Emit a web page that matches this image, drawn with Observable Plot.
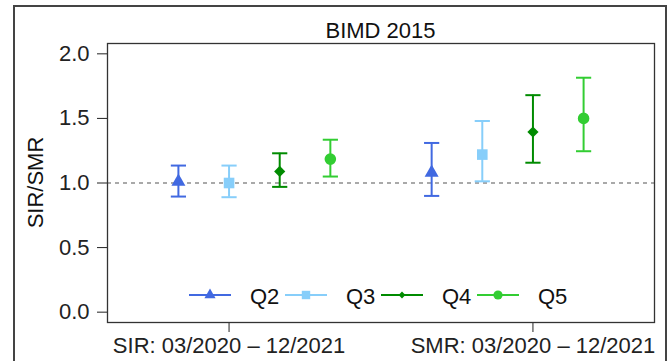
<!DOCTYPE html>
<html>
<head>
<meta charset="utf-8">
<script src="https://cdn.jsdelivr.net/npm/d3@7"></script>
<script src="https://cdn.jsdelivr.net/npm/@observablehq/plot@0.6"></script>
<style>
  html, body { margin: 0; padding: 0; background: #fff; }
  #wrap { position: relative; width: 669px; height: 361px; overflow: hidden; font-family: "Liberation Sans", Arial, Helvetica, sans-serif; }
  #wrap > svg { position: absolute; left: 0; top: 0; }
  #overlay { pointer-events: none; }
</style>
</head>
<body>
<div id="wrap"></div>
<script>
// ---- data ----
const title = "BIMD 2015";
const yLabel = "SIR/SMR";
const groups = ["SIR", "SMR"];
const groupLabels = ["SIR: 03/2020 \u2013 12/2021", "SMR: 03/2020 \u2013 12/2021"];
const groupTickAt = [2, 8];
const quintiles = ["Q2", "Q3", "Q4", "Q5"];
const colors = ["#4169E1", "#87CEFA", "#008B00", "#32CD32"];

const sirEst = [1.01, 1.00, 1.09, 1.185];
const sirLo  = [0.895, 0.89, 0.97, 1.05];
const sirHi  = [1.135, 1.135, 1.23, 1.335];

const smrEst = [1.08, 1.22, 1.395, 1.50];
const smrLo  = [0.90, 1.013, 1.157, 1.246];
const smrHi  = [1.31, 1.48, 1.68, 1.815];

const yTicks = [0, 0.5, 1, 1.5, 2];
const yTickLabels = ["0.0", "0.5", "1.0", "1.5", "2.0"];
const refLine = [1];

// ---- build table ----
const est = [sirEst, smrEst], lo = [sirLo, smrLo], hi = [sirHi, smrHi];
const rows = [];
groups.forEach((g, gi) => {
  quintiles.forEach((q, qi) => {
    rows.push({group: g, quintile: q, x: gi * 5 + qi + 1, est: est[gi][qi], lo: lo[gi][qi], hi: hi[gi][qi]});
  });
});

// ---- symbols (R pch-like) ----
const triSym = {draw(c, size) { const r = Math.sqrt(size / Math.PI); const h = r * 1.76;
  c.moveTo(0, -2 * h / 3); c.lineTo(r, h / 3); c.lineTo(-r, h / 3); c.closePath(); }};
const sqSym = {draw(c, size) { const r = Math.sqrt(size / Math.PI); c.rect(-r, -r, 2 * r, 2 * r); }};
const diaSym = {draw(c, size) { const r = Math.sqrt(size / Math.PI);
  c.moveTo(0, -r); c.lineTo(r, 0); c.lineTo(0, r); c.lineTo(-r, 0); c.closePath(); }};
const cirSym = {draw(c, size) { const r = Math.sqrt(size / Math.PI); c.moveTo(r, 0); c.arc(0, 0, r, 0, 2 * Math.PI); }};
const capSym = {draw(c, size) { const r = Math.sqrt(size / Math.PI); c.moveTo(-r, 0); c.lineTo(r, 0); }};

const pointSyms = [triSym, sqSym, diaSym, cirSym];
const pointR = [7, 5.3, 5.6, 5.8];
const legendR = [5.6, 4.2, 3.4, 4.6];

const W = 669, H = 361;
const mL = 107, mR = 15, mT = 43, mB = 39;

const chart = Plot.plot({
  width: W, height: H,
  marginLeft: mL, marginRight: mR, marginTop: mT, marginBottom: mB,
  style: {fontFamily: '"Liberation Sans", Arial, Helvetica, sans-serif', fontSize: "22px", color: "#222", background: "transparent", overflow: "visible"},
  x: {domain: [-0.4, 10.4], ticks: groupTickAt, tickFormat: d => groupLabels[groupTickAt.indexOf(d)], tickSize: 10, tickPadding: 5, label: null},
  y: {domain: [-0.08, 2.08], ticks: yTicks, tickFormat: d => yTickLabels[yTicks.indexOf(d)], tickSize: 10, tickPadding: 8, label: null},
  color: {domain: quintiles, range: colors},
  marks: [
    Plot.ruleY(refLine, {stroke: "#555", strokeWidth: 1.1, strokeDasharray: "4,4"}),
    Plot.ruleX(rows, {x: "x", y1: "lo", y2: "hi", stroke: "quintile", strokeWidth: 2}),
    Plot.dot(rows, {x: "x", y: "lo", symbol: capSym, r: 7.6, stroke: "quintile", strokeWidth: 2}),
    Plot.dot(rows, {x: "x", y: "hi", symbol: capSym, r: 7.6, stroke: "quintile", strokeWidth: 2}),
    ...quintiles.map((q, qi) => Plot.dot(rows.filter(d => d.quintile === q),
      {x: "x", y: "est", symbol: pointSyms[qi], r: pointR[qi], fill: "quintile"})),
    Plot.frame({stroke: "#333", strokeWidth: 1.3})
  ]
});

const wrap = document.getElementById("wrap");
wrap.appendChild(chart);

// ---- overlay: outer border, title, y label, legend ----
const svg = d3.select(wrap).append("svg")
  .attr("id", "overlay").attr("width", W).attr("height", H)
  .style("font-family", '"Liberation Sans", Arial, Helvetica, sans-serif')
  .style("font-size", "22px");

svg.append("rect").attr("x", 14).attr("y", 6).attr("width", 652).attr("height", 420)
  .attr("fill", "none").attr("stroke", "#444").attr("stroke-width", 2);

const plotCx = (mL + (W - mR)) / 2;
const plotCy = (mT + (H - mB)) / 2;

svg.append("text").attr("x", plotCx).attr("y", 38.3).attr("text-anchor", "middle")
  .attr("fill", "#111").text(title);

svg.append("text").attr("transform", `translate(43,${plotCy}) rotate(-90)`)
  .attr("text-anchor", "middle").attr("fill", "#111").text(yLabel);

const legX0 = 189, legStep = 96, legY = 295;
quintiles.forEach((q, i) => {
  const x0 = legX0 + i * legStep;
  svg.append("line").attr("x1", x0).attr("x2", x0 + 42).attr("y1", legY).attr("y2", legY)
    .attr("stroke", colors[i]).attr("stroke-width", 2);
  svg.append("path").attr("transform", `translate(${x0 + 21},${legY})`)
    .attr("d", d3.symbol(pointSyms[i], Math.PI * legendR[i] * legendR[i])())
    .attr("fill", colors[i]);
  svg.append("text").attr("x", x0 + 61).attr("y", legY + 9).attr("fill", "#111").text(q);
});
</script>
</body>
</html>
